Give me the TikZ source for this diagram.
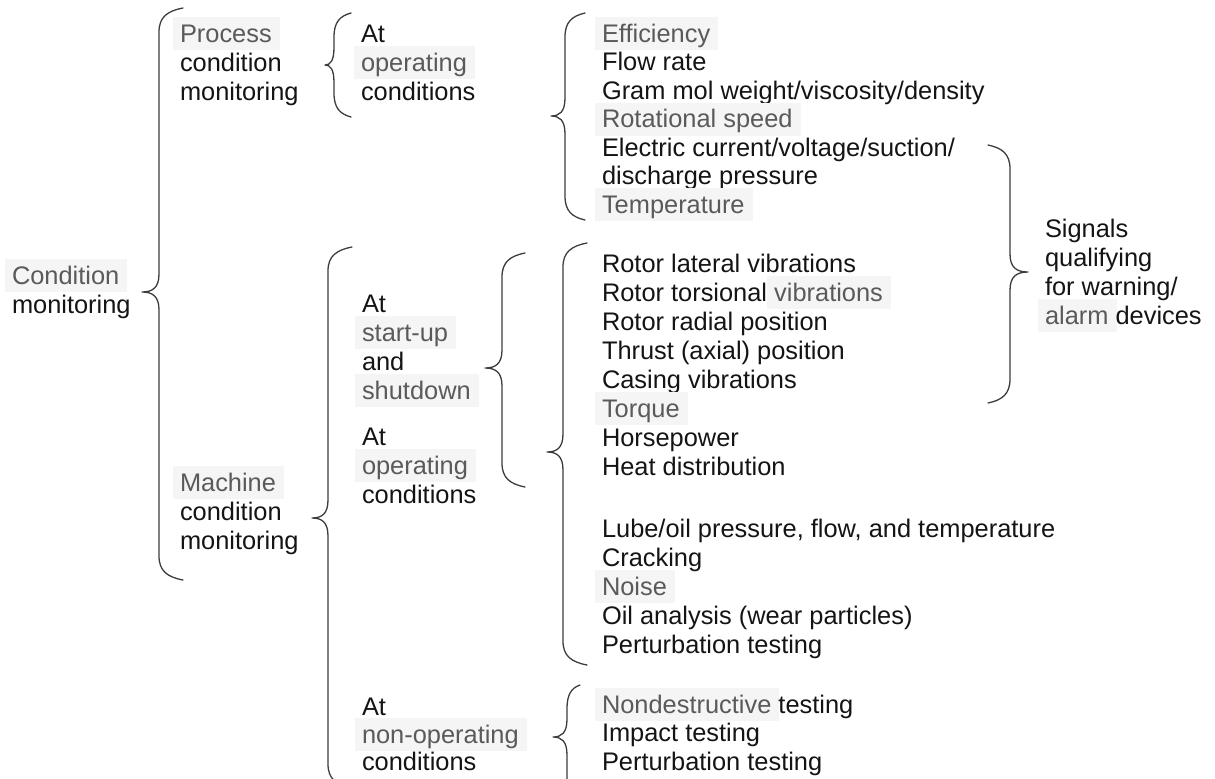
\documentclass[tikz,border=0pt]{standalone}
\usepackage{fontspec}
\setmainfont{Liberation Sans}
\definecolor{hlbg}{HTML}{F5F5F5}
\definecolor{hlfg}{HTML}{5A5A5A}
\definecolor{txt}{HTML}{141414}
\definecolor{brcol}{HTML}{3C3C3C}
\newlength\hlwd
\newcommand\hl[1]{\settowidth{\hlwd}{#1}\addtolength{\hlwd}{7.5pt}\leavevmode\rlap{\hspace*{-3.5pt}\smash{\textcolor{hlbg}{\rule[-4pt]{\hlwd}{16.5pt}}}}\textcolor{hlfg}{#1}}
% #1 x of hook ends, #2 y top, #3 x of stem, #4 x of tip, #5 y of tip, #6 y bottom
\newcommand\BraceShape[6]{\draw[brc] (#1,#2) .. controls ({#3+0.35*(#1-#3)},#2+3) and (#3,#2+9) .. (#3,#2+24) -- (#3,#5-18) .. controls (#3,#5-4) and ({#3+0.4*(#4-#3)},#5) .. (#4,#5) .. controls ({#3+0.4*(#4-#3)},#5) and (#3,#5+4) .. (#3,#5+18) -- (#3,#6-24) .. controls (#3,#6-9) and ({#3+0.35*(#1-#3)},#6-3) .. (#1,#6);}
\begin{document}
\begin{tikzpicture}[x=0.5pt,y=-0.5pt,
  tx/.style={anchor=base west,inner sep=0pt,outer sep=0pt,font=\fontsize{12.7}{14.5}\selectfont,text=txt},
  brc/.style={draw=brcol,line width=0.65pt,line cap=round,line join=round}]
\clip (0,0) rectangle (1215,778);
% texts
\node[tx] (c1) at (12,284) {\hl{Condition}};
\node[tx] (c2) at (12,313) {monitoring};
\node[tx] (p1) at (180,42) {\hl{Process}};
\node[tx] (p2) at (180,71) {condition};
\node[tx] (p3) at (180,100) {monitoring};
\node[tx] (a1) at (361,42) {At};
\node[tx] (a2) at (361,71) {\hl{operating}};
\node[tx] (a3) at (361,100) {conditions};
\node[tx] (l1) at (602,42) {\hl{Efficiency}};
\node[tx] (l2) at (602,70.5) {Flow rate};
\node[tx] (l3) at (602,99) {Gram mol weight/viscosity/density};
\node[tx] (l4) at (602,127.5) {\hl{Rotational speed}};
\node[tx] (l5) at (602,156) {Electric current/voltage/suction/};
\node[tx] (l6) at (602,184.5) {discharge pressure};
\node[tx] (l7) at (602,213) {\hl{Temperature}};
\node[tx] (m1) at (180,491) {\hl{Machine}};
\node[tx] (m2) at (180,520) {condition};
\node[tx] (m3) at (180,549) {monitoring};
\node[tx] (s1) at (362,312) {At};
\node[tx] (s2) at (362,341) {\hl{start-up}};
\node[tx] (s3) at (362,370) {and};
\node[tx] (s4) at (362,399) {\hl{shutdown}};
\node[tx] (o1) at (362,445) {At};
\node[tx] (o2) at (362,474) {\hl{operating}};
\node[tx] (o3) at (362,503) {conditions};
\node[tx] (r1) at (602,272) {Rotor lateral vibrations};
\node[tx] (r2) at (602,301) {Rotor torsional \hl{vibrations}};
\node[tx] (r3) at (602,330) {Rotor radial position};
\node[tx] (r4) at (602,359) {Thrust (axial) position};
\node[tx] (r5) at (602,388) {Casing vibrations};
\node[tx] (r6) at (602,417) {\hl{Torque}};
\node[tx] (r7) at (602,446) {Horsepower};
\node[tx] (r8) at (602,475) {Heat distribution};
\node[tx] (r9) at (602,537) {Lube/oil pressure, flow, and temperature};
\node[tx] (r10) at (602,566) {Cracking};
\node[tx] (r11) at (602,595) {\hl{Noise}};
\node[tx] (r12) at (602,624) {Oil analysis (wear particles)};
\node[tx] (r13) at (602,653) {Perturbation testing};
\node[tx] (n1) at (362,715) {At};
\node[tx] (n2) at (362,743) {\hl{non-operating}};
\node[tx] (n3) at (362,770) {conditions};
\node[tx] (d1) at (602,713) {\hl{Nondestructive} testing};
\node[tx] (d2) at (602,741.5) {Impact testing};
\node[tx] (d3) at (602,770) {Perturbation testing};
\node[tx] (g1) at (1045,237) {Signals};
\node[tx] (g2) at (1045,266) {qualifying};
\node[tx] (g3) at (1045,295) {for warning/};
\node[tx] (g4) at (1045,324) {\hl{alarm} devices};
% braces
\BraceShape{183}{8}{159}{142}{292}{580}
\BraceShape{351}{13}{334}{325}{65}{117}
\BraceShape{585}{13}{565}{551}{116}{220}
\BraceShape{988}{145}{1010}{1028}{272}{403}
\BraceShape{352}{247}{328}{312}{518}{788}
\BraceShape{525}{253}{502}{485}{368}{487}
\BraceShape{587}{243}{563}{547}{452}{665}
\BraceShape{580}{685}{567}{553}{737}{840}
\end{tikzpicture}
\end{document}
